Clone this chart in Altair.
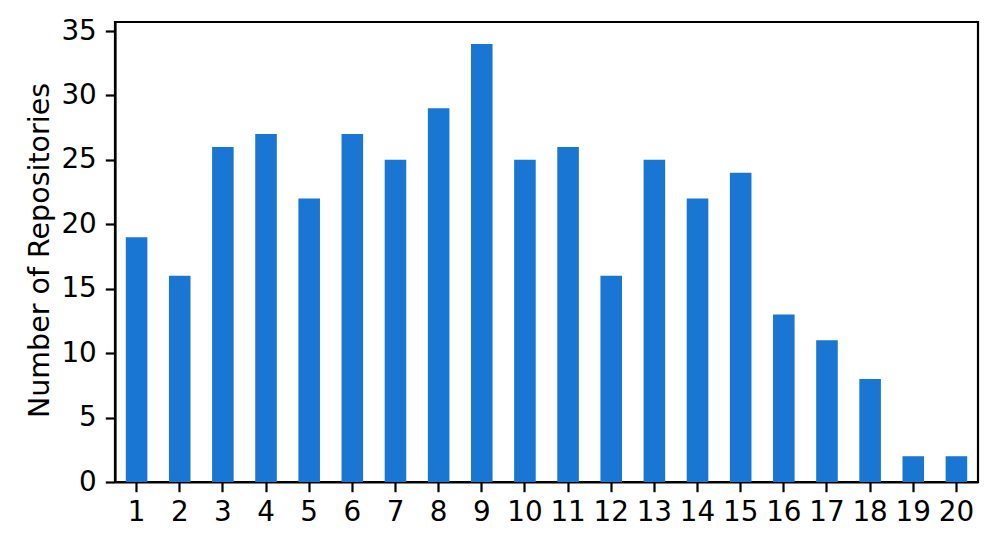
import altair as alt
import pandas as pd

categories = [str(i) for i in range(1, 21)]
counts = [19, 16, 26, 27, 22, 27, 25, 29, 34, 25, 26, 16, 25, 22, 24, 13, 11, 8, 2, 2]
y_ticks = [0, 5, 10, 15, 20, 25, 30, 35]

df = pd.DataFrame({"cat": categories, "count": counts})

FONT = "DejaVu Sans"
FS = 27.8
LW = 2.2

chart = alt.Chart(df).mark_bar(color="#1976D2").encode(
    x=alt.X(
        "cat:O",
        sort=categories,
        title=None,
        scale=alt.Scale(paddingInner=0.5, paddingOuter=0.25),
        axis=alt.Axis(
            labelAngle=0,
            labelFont=FONT,
            labelFontSize=FS,
            labelColor="black",
            labelBaseline="top",
            labelPadding=7,
            tickSize=9.7,
            tickWidth=LW,
            tickColor="black",
            domainColor="black",
            domainWidth=LW,
            grid=False,
        ),
    ),
    y=alt.Y(
        "count:Q",
        title="Number of Repositories",
        scale=alt.Scale(domain=[0, 35.7], nice=False),
        axis=alt.Axis(
            values=y_ticks,
            labelFont=FONT,
            labelFontSize=FS,
            labelColor="black",
            labelPadding=9,
            tickSize=9.7,
            tickWidth=LW,
            tickColor="black",
            domainColor="black",
            domainWidth=LW,
            grid=False,
            titleFont=FONT,
            titleFontSize=28.5,
            titleFontWeight="normal",
            titleColor="black",
            titleAngle=270,
            titleBaseline="alphabetic",
            titleAlign="center",
            titleX=-67,
            titleY=228,
        ),
    ),
).properties(
    width=863,
    height=460,
    autosize=alt.AutoSizeParams(type="none"),
    padding={"left": 107, "top": 14, "right": 12, "bottom": 60},
).configure_view(
    stroke="black",
    strokeWidth=LW,
)

chart.save("out.html", embed_options={"renderer": "svg", "actions": False})
